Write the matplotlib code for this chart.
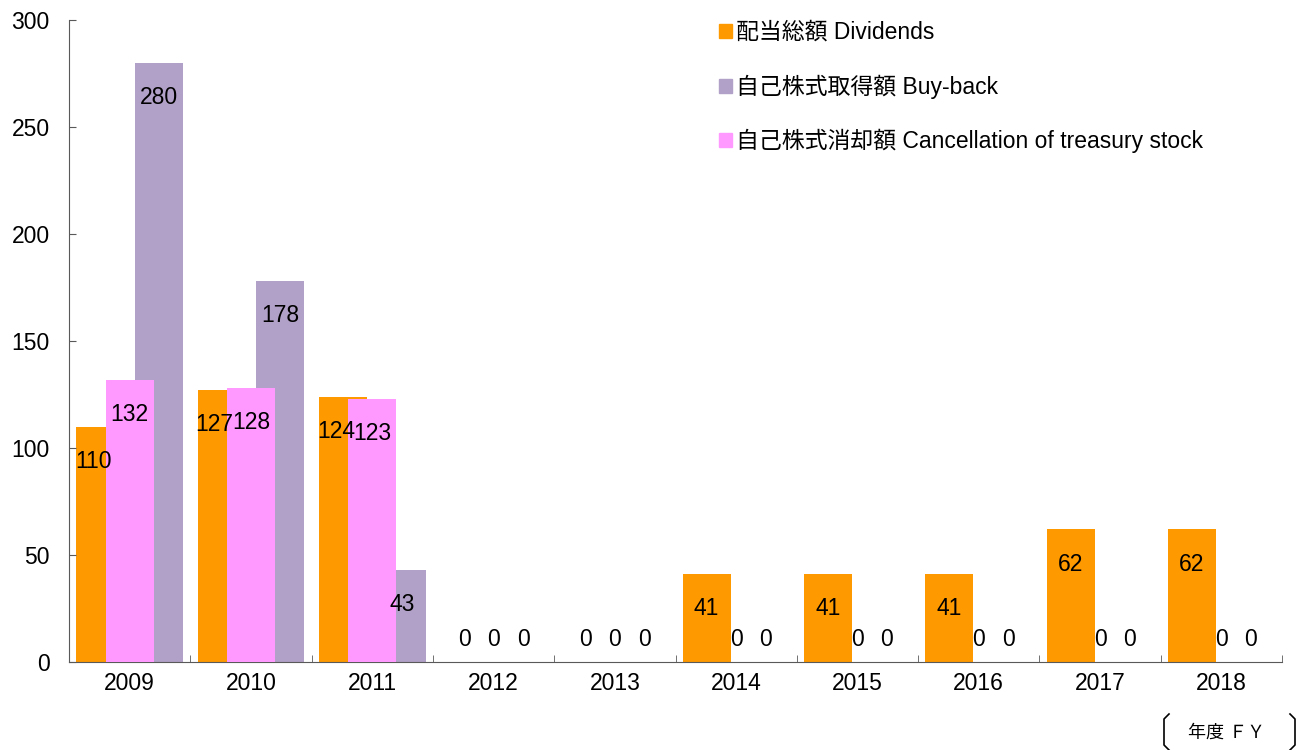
import numpy as np
import matplotlib
matplotlib.use("Agg")
import matplotlib.pyplot as plt
from matplotlib.patches import Patch
from matplotlib.lines import Line2D

plt.rcParams['font.family'] = ['Liberation Sans', 'Noto Sans CJK JP', 'DejaVu Sans']

# データ
years = ['2009', '2010', '2011', '2012', '2013', '2014', '2015', '2016', '2017', '2018']
dividends = [110, 127, 124, 0, 0, 41, 41, 41, 62, 62]
buyback = [280, 178, 43, 0, 0, 0, 0, 0, 0, 0]
cancellation = [132, 128, 123, 0, 0, 0, 0, 0, 0, 0]

labels = ['配当総額 Dividends', '自己株式取得額 Buy-back', '自己株式消却額 Cancellation of treasury stock']
c_div = '#FF9900'
c_buy = '#B1A0C7'
c_can = '#FF99FF'
fs = 16.5

fig = plt.figure(figsize=(13, 7.5), dpi=100)
ax = fig.add_axes([69 / 1300, 1 - 662 / 750, (1282 - 69) / 1300, (662 - 20) / 750])

x = np.arange(len(years)) + 0.5
w = 0.395
off = 0.243

series = [
    (dividends, x - off, c_div, 1),
    (buyback, x + off, c_buy, 2),
    (cancellation, x, c_can, 3),
]
for vals, pos, col, z in series:
    ax.bar(pos, vals, width=w, color=col, zorder=z, linewidth=0)
    for i, (xi, v) in enumerate(zip(pos, vals)):
        if v > 0:
            # 配当ラベルは隣の消却額ラベルと重ならないよう少し左へ
            dx = -5 if (vals is dividends and cancellation[i] > 0) else 0
            ax.annotate(str(v), xy=(xi, v), xytext=(dx, -25), textcoords='offset points',
                        ha='center', va='center', fontsize=fs, zorder=5)
        else:
            ax.annotate(str(v), xy=(xi, v), xytext=(0, 16), textcoords='offset points',
                        ha='center', va='center', fontsize=fs, zorder=5)

ax.set_xlim(0, len(years))
ax.set_ylim(0, 300)
ax.set_yticks(np.arange(0, 301, 50))
ax.set_xticks(x)
ax.set_xticklabels(years)
ax.set_xticks(np.arange(0, len(years) + 1), minor=True)
ax.tick_params(axis='x', which='major', length=0, pad=7, labelsize=fs)
ax.tick_params(axis='x', which='minor', direction='in', length=5, color='#595959')
ax.tick_params(axis='y', direction='in', length=5, pad=14, labelsize=fs, color='#595959')
for s in ['top', 'right']:
    ax.spines[s].set_visible(False)
for s in ['left', 'bottom']:
    ax.spines[s].set_color('#595959')

handles = [Patch(color=c_div), Patch(color=c_buy), Patch(color=c_can)]
fig.legend(handles, labels, loc='upper left', bbox_to_anchor=(719 / 1300, 1 - 21 / 750),
           frameon=False, fontsize=fs, handlelength=0.55, handleheight=0.55,
           handletextpad=0.2, labelspacing=1.33, borderpad=0, borderaxespad=0)

# 年度 FY
fig.text(1227 / 1300, 1 - 733 / 750, '年度 ＦＹ', ha='center', va='center', fontsize=13)
fx = lambda px: px / 1300
fy = lambda py: 1 - py / 750
fig.add_artist(Line2D([fx(1169), fx(1164), fx(1164), fx(1169)],
                      [fy(714), fy(719), fy(745), fy(750)], color='black', linewidth=1.2,
                      transform=fig.transFigure))
fig.add_artist(Line2D([fx(1290), fx(1295), fx(1295), fx(1290)],
                      [fy(714), fy(719), fy(745), fy(750)], color='black', linewidth=1.2,
                      transform=fig.transFigure))

fig.savefig('out.png', dpi=100)
